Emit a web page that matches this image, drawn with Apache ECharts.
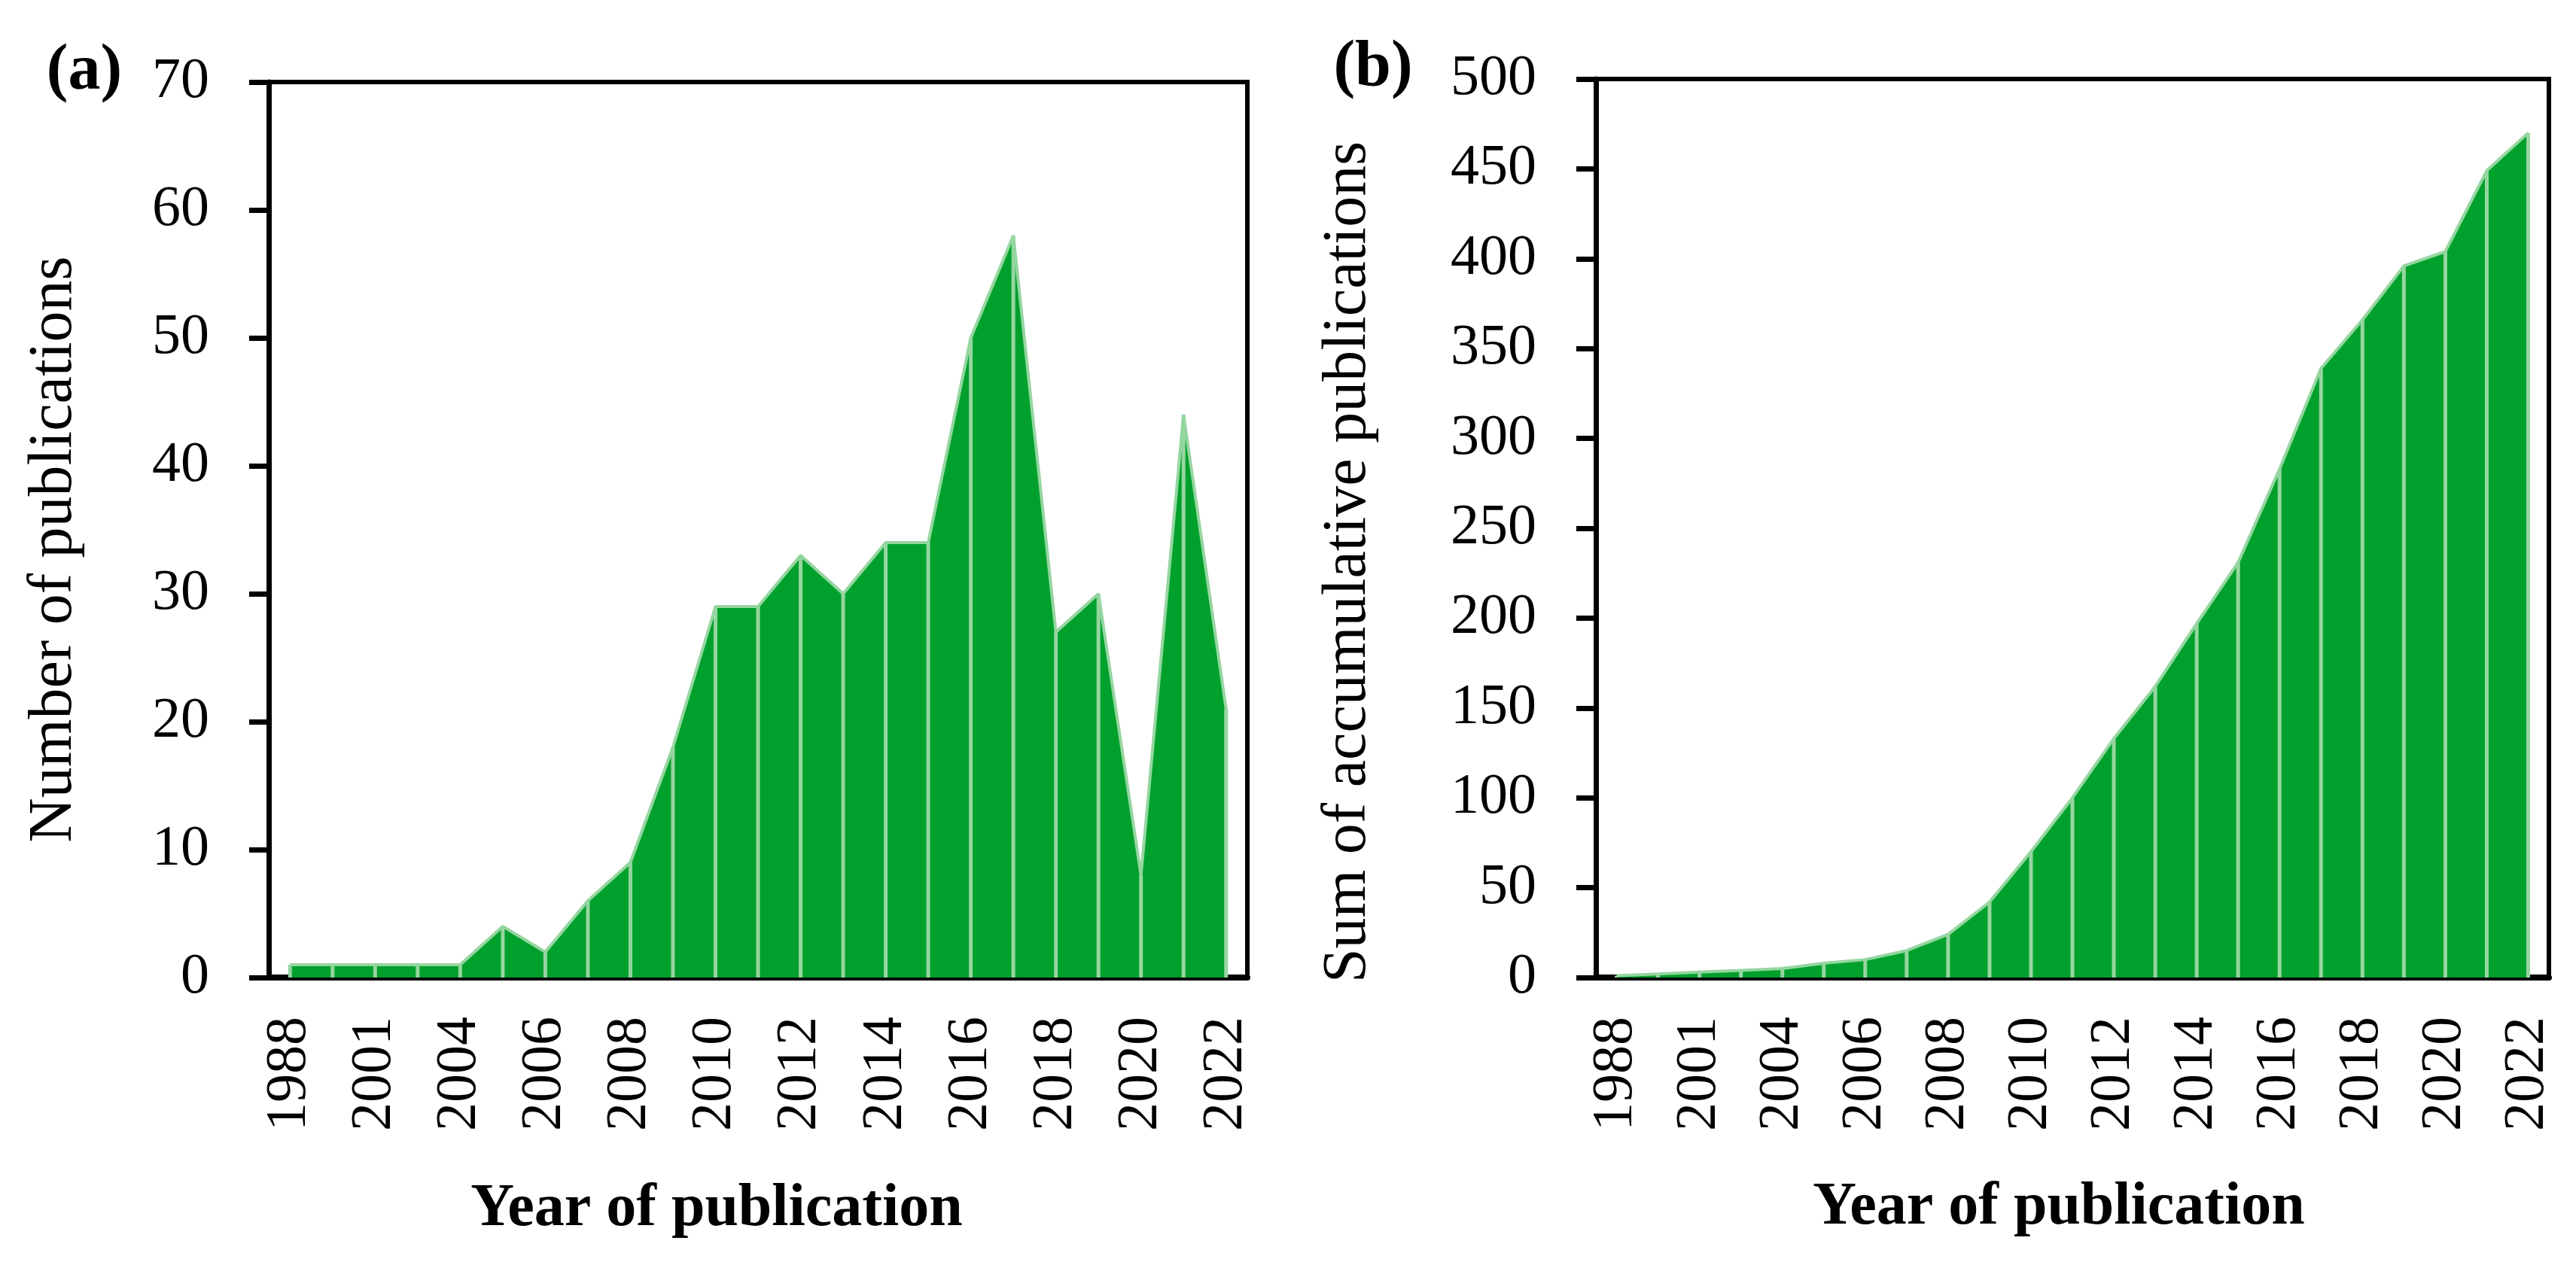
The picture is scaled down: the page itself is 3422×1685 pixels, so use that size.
<!DOCTYPE html>
<html>
<head>
<meta charset="utf-8">
<script src="https://cdn.jsdelivr.net/npm/echarts@6/dist/echarts.min.js"></script>
<style>
html,body{margin:0;padding:0;background:#fff;}
#c{width:3422px;height:1685px;}
</style>
</head>
<body>
<div id="c"></div>
<script>
const years = ['1988','1999','2001','2003','2004','2005','2006','2007','2008','2009','2010','2011','2012','2013','2014','2015','2016','2017','2018','2019','2020','2021','2022'];
const publications = [1,1,1,1,1,4,2,6,9,18,29,29,33,30,34,34,50,58,27,30,8,44,21];
const cumulative = [1,2,3,4,5,8,10,15,24,42,70,100,133,162,197,231,283,339,366,396,404,449,470];
const ticksA = {min:0, max:70, interval:10};
const ticksB = {min:0, max:500, interval:50};

const FONT = 'Liberation Serif';
const GREEN = '#00a02d';
const LIGHT = '#95d6a0';

const chart = echarts.init(document.getElementById('c'), null, {renderer:'canvas'});

function xAxis(gi){
  return {
    type:'category', gridIndex:gi, data:years, boundaryGap:true,
    axisLine:{show:true, lineStyle:{color:'#000', width:8}},
    axisTick:{show:false},
    axisLabel:{interval:1, rotate:90, margin:52, color:'#000', fontFamily:FONT, fontSize:76},
    splitLine:{show:false}
  };
}
function yAxis(gi, t){
  return {
    type:'value', gridIndex:gi, min:t.min, max:t.max, interval:t.interval,
    axisLine:{show:true, lineStyle:{color:'#000', width:7}},
    axisTick:{show:true, inside:false, length:26, lineStyle:{color:'#000', width:7}},
    axisLabel:{margin:79, color:'#000', fontFamily:FONT, fontSize:76},
    splitLine:{show:false}
  };
}
function areaSeries(gi, data){
  return {
    type:'line', xAxisIndex:gi, yAxisIndex:gi, data:data, symbol:'none', smooth:false,
    lineStyle:{color:LIGHT, width:4},
    areaStyle:{color:GREEN, opacity:1},
    z:2, silent:true
  };
}
function dropSeries(gi, data){
  return {
    type:'bar', xAxisIndex:gi, yAxisIndex:gi, data:data, barWidth:5,
    itemStyle:{color:LIGHT}, z:3, silent:true
  };
}
function txt(text, x, y, size, bold, rot){
  return {
    type:'text', x:x, y:y, rotation:rot||0, z:10,
    style:{text:text, fill:'#000', font:(bold?'bold ':'')+size+'px "'+FONT+'"', align:'center', verticalAlign:'middle'}
  };
}

chart.setOption({
  backgroundColor:'#fff',
  animation:false,
  grid:[
    {left:357, right:1765, top:109, bottom:386, show:true, borderColor:'#000', borderWidth:6, backgroundColor:'transparent'},
    {left:2120, right:36, top:105, bottom:386, show:true, borderColor:'#000', borderWidth:6, backgroundColor:'transparent'}
  ],
  xAxis:[xAxis(0), xAxis(1)],
  yAxis:[yAxis(0, ticksA), yAxis(1, ticksB)],
  series:[areaSeries(0, publications), dropSeries(0, publications), areaSeries(1, cumulative), dropSeries(1, cumulative)],
  graphic:[
    txt('(a)', 112, 96, 86, true),
    txt('(b)', 1824, 91, 86, true),
    txt('Number of publications', 72, 730, 82, false, Math.PI/2),
    txt('Sum of accumulative publications', 1791, 747, 82, false, Math.PI/2),
    txt('Year of publication', 952, 1607, 80, true),
    txt('Year of publication', 2735, 1605, 80, true)
  ]
});
</script>
</body>
</html>
